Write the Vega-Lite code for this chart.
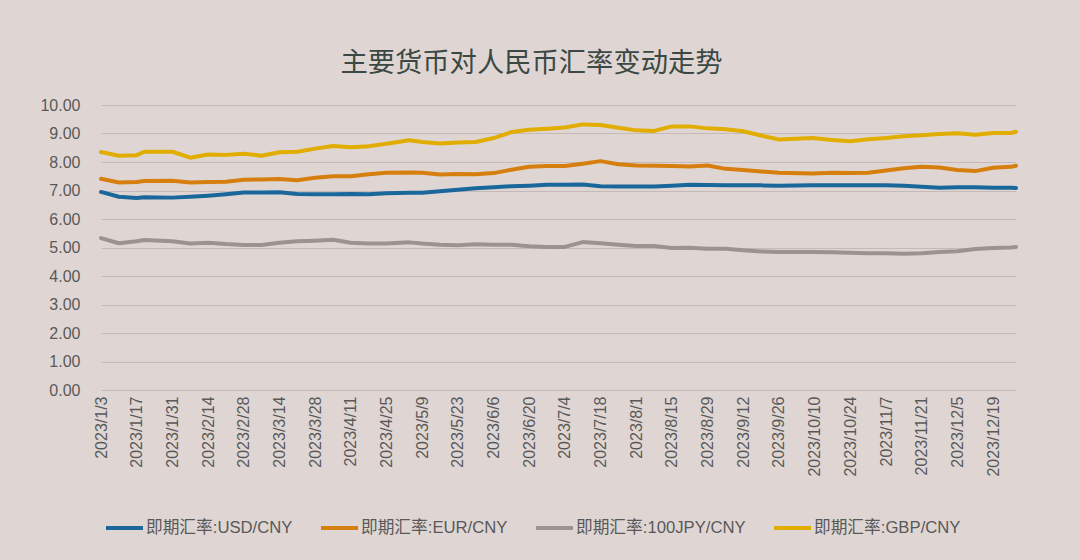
{
  "$schema": "https://vega.github.io/schema/vega-lite/v6.json",
  "width": 915,
  "height": 285,
  "autosize": {"type": "none"},
  "padding": {"left": 101, "top": 105, "right": 64, "bottom": 170},
  "background": "#dfd6d4",
  "config": {"view": {"stroke": null}, "font": "Liberation Sans, Noto Sans CJK SC"},
  "title": {"text": "主要货币对人民币汇率变动走势", "font": "Noto Sans CJK SC", "fontSize": 27.3, "fontWeight": "normal", "color": "#3b4843", "offset": 20, "dx": -27, "anchor": "middle"},
  "data": {
    "format": {"parse": {"date": "date:'%Y-%m-%d'"}},
    "values": [
      {"date": "2023-01-03", "即期汇率:USD/CNY": 6.95, "即期汇率:EUR/CNY": 7.41, "即期汇率:100JPY/CNY": 5.33, "即期汇率:GBP/CNY": 8.35},
      {"date": "2023-01-10", "即期汇率:USD/CNY": 6.78, "即期汇率:EUR/CNY": 7.28, "即期汇率:100JPY/CNY": 5.15, "即期汇率:GBP/CNY": 8.22},
      {"date": "2023-01-17", "即期汇率:USD/CNY": 6.74, "即期汇率:EUR/CNY": 7.30, "即期汇率:100JPY/CNY": 5.22, "即期汇率:GBP/CNY": 8.24},
      {"date": "2023-01-20", "即期汇率:USD/CNY": 6.76, "即期汇率:EUR/CNY": 7.33, "即期汇率:100JPY/CNY": 5.26, "即期汇率:GBP/CNY": 8.36},
      {"date": "2023-01-31", "即期汇率:USD/CNY": 6.75, "即期汇率:EUR/CNY": 7.34, "即期汇率:100JPY/CNY": 5.22, "即期汇率:GBP/CNY": 8.36},
      {"date": "2023-02-07", "即期汇率:USD/CNY": 6.78, "即期汇率:EUR/CNY": 7.28, "即期汇率:100JPY/CNY": 5.14, "即期汇率:GBP/CNY": 8.15},
      {"date": "2023-02-14", "即期汇率:USD/CNY": 6.82, "即期汇率:EUR/CNY": 7.30, "即期汇率:100JPY/CNY": 5.17, "即期汇率:GBP/CNY": 8.26},
      {"date": "2023-02-21", "即期汇率:USD/CNY": 6.87, "即期汇率:EUR/CNY": 7.31, "即期汇率:100JPY/CNY": 5.12, "即期汇率:GBP/CNY": 8.25},
      {"date": "2023-02-28", "即期汇率:USD/CNY": 6.93, "即期汇率:EUR/CNY": 7.38, "即期汇率:100JPY/CNY": 5.09, "即期汇率:GBP/CNY": 8.29},
      {"date": "2023-03-07", "即期汇率:USD/CNY": 6.93, "即期汇率:EUR/CNY": 7.39, "即期汇率:100JPY/CNY": 5.09, "即期汇率:GBP/CNY": 8.22},
      {"date": "2023-03-14", "即期汇率:USD/CNY": 6.94, "即期汇率:EUR/CNY": 7.40, "即期汇率:100JPY/CNY": 5.17, "即期汇率:GBP/CNY": 8.34},
      {"date": "2023-03-21", "即期汇率:USD/CNY": 6.88, "即期汇率:EUR/CNY": 7.36, "即期汇率:100JPY/CNY": 5.22, "即期汇率:GBP/CNY": 8.36},
      {"date": "2023-03-28", "即期汇率:USD/CNY": 6.87, "即期汇率:EUR/CNY": 7.45, "即期汇率:100JPY/CNY": 5.24, "即期汇率:GBP/CNY": 8.47},
      {"date": "2023-04-04", "即期汇率:USD/CNY": 6.87, "即期汇率:EUR/CNY": 7.50, "即期汇率:100JPY/CNY": 5.27, "即期汇率:GBP/CNY": 8.56},
      {"date": "2023-04-11", "即期汇率:USD/CNY": 6.88, "即期汇率:EUR/CNY": 7.50, "即期汇率:100JPY/CNY": 5.17, "即期汇率:GBP/CNY": 8.52},
      {"date": "2023-04-18", "即期汇率:USD/CNY": 6.87, "即期汇率:EUR/CNY": 7.57, "即期汇率:100JPY/CNY": 5.14, "即期汇率:GBP/CNY": 8.55},
      {"date": "2023-04-25", "即期汇率:USD/CNY": 6.90, "即期汇率:EUR/CNY": 7.62, "即期汇率:100JPY/CNY": 5.14, "即期汇率:GBP/CNY": 8.64},
      {"date": "2023-05-04", "即期汇率:USD/CNY": 6.92, "即期汇率:EUR/CNY": 7.63, "即期汇率:100JPY/CNY": 5.18, "即期汇率:GBP/CNY": 8.76},
      {"date": "2023-05-09", "即期汇率:USD/CNY": 6.92, "即期汇率:EUR/CNY": 7.62, "即期汇率:100JPY/CNY": 5.14, "即期汇率:GBP/CNY": 8.70},
      {"date": "2023-05-16", "即期汇率:USD/CNY": 6.97, "即期汇率:EUR/CNY": 7.56, "即期汇率:100JPY/CNY": 5.10, "即期汇率:GBP/CNY": 8.65},
      {"date": "2023-05-23", "即期汇率:USD/CNY": 7.03, "即期汇率:EUR/CNY": 7.58, "即期汇率:100JPY/CNY": 5.08, "即期汇率:GBP/CNY": 8.68},
      {"date": "2023-05-30", "即期汇率:USD/CNY": 7.08, "即期汇率:EUR/CNY": 7.57, "即期汇率:100JPY/CNY": 5.11, "即期汇率:GBP/CNY": 8.70},
      {"date": "2023-06-06", "即期汇率:USD/CNY": 7.11, "即期汇率:EUR/CNY": 7.61, "即期汇率:100JPY/CNY": 5.10, "即期汇率:GBP/CNY": 8.84},
      {"date": "2023-06-13", "即期汇率:USD/CNY": 7.15, "即期汇率:EUR/CNY": 7.73, "即期汇率:100JPY/CNY": 5.10, "即期汇率:GBP/CNY": 9.05},
      {"date": "2023-06-20", "即期汇率:USD/CNY": 7.17, "即期汇率:EUR/CNY": 7.83, "即期汇率:100JPY/CNY": 5.04, "即期汇率:GBP/CNY": 9.13},
      {"date": "2023-06-27", "即期汇率:USD/CNY": 7.20, "即期汇率:EUR/CNY": 7.86, "即期汇率:100JPY/CNY": 5.02, "即期汇率:GBP/CNY": 9.17},
      {"date": "2023-07-04", "即期汇率:USD/CNY": 7.20, "即期汇率:EUR/CNY": 7.86, "即期汇率:100JPY/CNY": 5.02, "即期汇率:GBP/CNY": 9.21},
      {"date": "2023-07-11", "即期汇率:USD/CNY": 7.21, "即期汇率:EUR/CNY": 7.94, "即期汇率:100JPY/CNY": 5.19, "即期汇率:GBP/CNY": 9.32},
      {"date": "2023-07-18", "即期汇率:USD/CNY": 7.15, "即期汇率:EUR/CNY": 8.03, "即期汇率:100JPY/CNY": 5.15, "即期汇率:GBP/CNY": 9.30},
      {"date": "2023-07-25", "即期汇率:USD/CNY": 7.14, "即期汇率:EUR/CNY": 7.92, "即期汇率:100JPY/CNY": 5.10, "即期汇率:GBP/CNY": 9.20},
      {"date": "2023-08-01", "即期汇率:USD/CNY": 7.14, "即期汇率:EUR/CNY": 7.88, "即期汇率:100JPY/CNY": 5.05, "即期汇率:GBP/CNY": 9.11},
      {"date": "2023-08-08", "即期汇率:USD/CNY": 7.14, "即期汇率:EUR/CNY": 7.87, "即期汇率:100JPY/CNY": 5.05, "即期汇率:GBP/CNY": 9.09},
      {"date": "2023-08-15", "即期汇率:USD/CNY": 7.17, "即期汇率:EUR/CNY": 7.86, "即期汇率:100JPY/CNY": 4.98, "即期汇率:GBP/CNY": 9.25},
      {"date": "2023-08-22", "即期汇率:USD/CNY": 7.20, "即期汇率:EUR/CNY": 7.84, "即期汇率:100JPY/CNY": 4.99, "即期汇率:GBP/CNY": 9.25},
      {"date": "2023-08-29", "即期汇率:USD/CNY": 7.19, "即期汇率:EUR/CNY": 7.88, "即期汇率:100JPY/CNY": 4.96, "即期汇率:GBP/CNY": 9.18},
      {"date": "2023-09-05", "即期汇率:USD/CNY": 7.18, "即期汇率:EUR/CNY": 7.76, "即期汇率:100JPY/CNY": 4.96, "即期汇率:GBP/CNY": 9.15},
      {"date": "2023-09-12", "即期汇率:USD/CNY": 7.18, "即期汇率:EUR/CNY": 7.72, "即期汇率:100JPY/CNY": 4.90, "即期汇率:GBP/CNY": 9.08},
      {"date": "2023-09-19", "即期汇率:USD/CNY": 7.18, "即期汇率:EUR/CNY": 7.67, "即期汇率:100JPY/CNY": 4.86, "即期汇率:GBP/CNY": 8.93},
      {"date": "2023-09-26", "即期汇率:USD/CNY": 7.17, "即期汇率:EUR/CNY": 7.62, "即期汇率:100JPY/CNY": 4.84, "即期汇率:GBP/CNY": 8.79},
      {"date": "2023-10-09", "即期汇率:USD/CNY": 7.18, "即期汇率:EUR/CNY": 7.60, "即期汇率:100JPY/CNY": 4.84, "即期汇率:GBP/CNY": 8.84},
      {"date": "2023-10-17", "即期汇率:USD/CNY": 7.18, "即期汇率:EUR/CNY": 7.62, "即期汇率:100JPY/CNY": 4.83, "即期汇率:GBP/CNY": 8.77},
      {"date": "2023-10-24", "即期汇率:USD/CNY": 7.18, "即期汇率:EUR/CNY": 7.61, "即期汇率:100JPY/CNY": 4.82, "即期汇率:GBP/CNY": 8.73},
      {"date": "2023-10-31", "即期汇率:USD/CNY": 7.18, "即期汇率:EUR/CNY": 7.62, "即期汇率:100JPY/CNY": 4.80, "即期汇率:GBP/CNY": 8.80},
      {"date": "2023-11-07", "即期汇率:USD/CNY": 7.18, "即期汇率:EUR/CNY": 7.70, "即期汇率:100JPY/CNY": 4.80, "即期汇率:GBP/CNY": 8.84},
      {"date": "2023-11-14", "即期汇率:USD/CNY": 7.17, "即期汇率:EUR/CNY": 7.78, "即期汇率:100JPY/CNY": 4.78, "即期汇率:GBP/CNY": 8.90},
      {"date": "2023-11-21", "即期汇率:USD/CNY": 7.13, "即期汇率:EUR/CNY": 7.83, "即期汇率:100JPY/CNY": 4.80, "即期汇率:GBP/CNY": 8.94},
      {"date": "2023-11-28", "即期汇率:USD/CNY": 7.10, "即期汇率:EUR/CNY": 7.81, "即期汇率:100JPY/CNY": 4.84, "即期汇率:GBP/CNY": 8.98},
      {"date": "2023-12-05", "即期汇率:USD/CNY": 7.11, "即期汇率:EUR/CNY": 7.72, "即期汇率:100JPY/CNY": 4.87, "即期汇率:GBP/CNY": 9.01},
      {"date": "2023-12-12", "即期汇率:USD/CNY": 7.11, "即期汇率:EUR/CNY": 7.68, "即期汇率:100JPY/CNY": 4.95, "即期汇率:GBP/CNY": 8.96},
      {"date": "2023-12-19", "即期汇率:USD/CNY": 7.10, "即期汇率:EUR/CNY": 7.80, "即期汇率:100JPY/CNY": 4.98, "即期汇率:GBP/CNY": 9.02},
      {"date": "2023-12-26", "即期汇率:USD/CNY": 7.10, "即期汇率:EUR/CNY": 7.83, "即期汇率:100JPY/CNY": 5.00, "即期汇率:GBP/CNY": 9.02},
      {"date": "2023-12-28", "即期汇率:USD/CNY": 7.09, "即期汇率:EUR/CNY": 7.87, "即期汇率:100JPY/CNY": 5.02, "即期汇率:GBP/CNY": 9.06}
    ]
  },
  "transform": [
    {"fold": ["即期汇率:USD/CNY", "即期汇率:EUR/CNY", "即期汇率:100JPY/CNY", "即期汇率:GBP/CNY"], "as": ["series", "value"]}
  ],
  "mark": {"type": "line", "strokeWidth": 4, "strokeJoin": "round", "strokeCap": "round"},
  "encoding": {
    "x": {
      "field": "date",
      "type": "temporal",
      "scale": {"domain": [{"year": 2023, "month": 1, "date": 3}, {"year": 2023, "month": 12, "date": 28}]},
      "axis": {
        "title": null,
        "values": [
          {"year": 2023, "month": 1, "date": 3}, {"year": 2023, "month": 1, "date": 17}, {"year": 2023, "month": 1, "date": 31},
          {"year": 2023, "month": 2, "date": 14}, {"year": 2023, "month": 2, "date": 28}, {"year": 2023, "month": 3, "date": 14},
          {"year": 2023, "month": 3, "date": 28}, {"year": 2023, "month": 4, "date": 11}, {"year": 2023, "month": 4, "date": 25},
          {"year": 2023, "month": 5, "date": 9}, {"year": 2023, "month": 5, "date": 23}, {"year": 2023, "month": 6, "date": 6},
          {"year": 2023, "month": 6, "date": 20}, {"year": 2023, "month": 7, "date": 4}, {"year": 2023, "month": 7, "date": 18},
          {"year": 2023, "month": 8, "date": 1}, {"year": 2023, "month": 8, "date": 15}, {"year": 2023, "month": 8, "date": 29},
          {"year": 2023, "month": 9, "date": 12}, {"year": 2023, "month": 9, "date": 26}, {"year": 2023, "month": 10, "date": 10},
          {"year": 2023, "month": 10, "date": 24}, {"year": 2023, "month": 11, "date": 7}, {"year": 2023, "month": 11, "date": 21},
          {"year": 2023, "month": 12, "date": 5}, {"year": 2023, "month": 12, "date": 19}
        ],
        "format": "%Y/%-m/%-d",
        "labelAngle": 270,
        "labelAlign": "right",
        "labelBaseline": "middle",
        "labelFontSize": 16,
        "labelColor": "#595959",
        "labelPadding": 6,
        "labelOverlap": false,
        "labelFlush": false,
        "ticks": false,
        "domain": false,
        "grid": false
      }
    },
    "y": {
      "field": "value",
      "type": "quantitative",
      "scale": {"domain": [0, 10], "nice": false},
      "axis": {
        "title": null,
        "values": [0, 1, 2, 3, 4, 5, 6, 7, 8, 9, 10],
        "format": ".2f",
        "labelFontSize": 16,
        "labelColor": "#595959",
        "labelPadding": 21,
        "ticks": false,
        "domain": false,
        "grid": true,
        "gridColor": "#c5bab8",
        "gridWidth": 1.2
      }
    },
    "color": {
      "field": "series",
      "type": "nominal",
      "scale": {
        "domain": ["即期汇率:USD/CNY", "即期汇率:EUR/CNY", "即期汇率:100JPY/CNY", "即期汇率:GBP/CNY"],
        "range": ["#1a679c", "#d67f0e", "#9c9391", "#e1ad00"]
      },
      "legend": {
        "title": null,
        "orient": "none",
        "direction": "horizontal",
        "legendX": 3,
        "legendY": 402,
        "symbolType": "stroke",
        "symbolSize": 1369,
        "symbolStrokeWidth": 4,
        "labelFontSize": 16.7,
        "labelColor": "#595959",
        "labelOffset": 1,
        "columnPadding": 20,
        "labelLimit": 300
      }
    }
  }
}
